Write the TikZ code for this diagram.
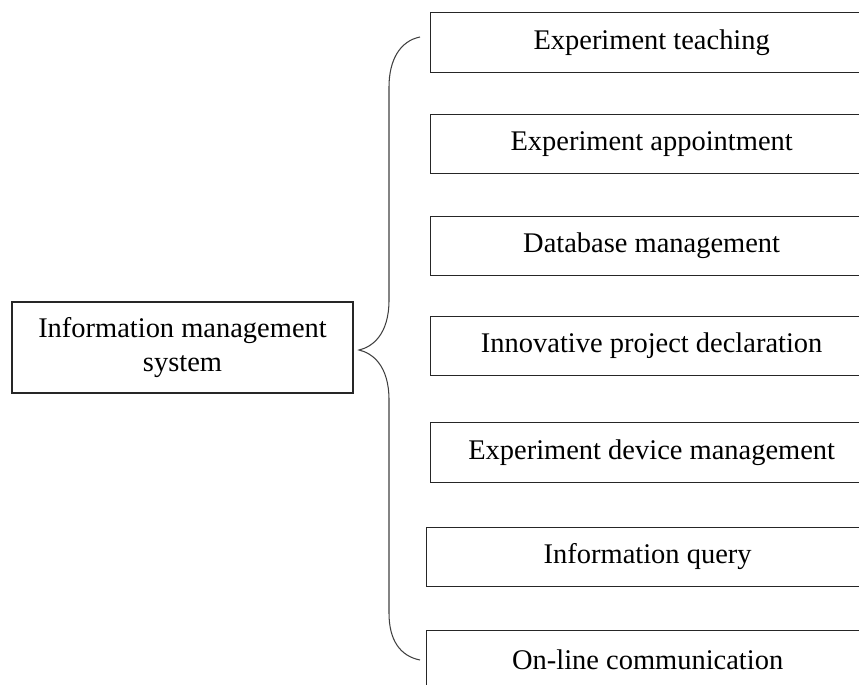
\documentclass[tikz,border=0pt]{standalone}
\usepackage{fontspec}
\setmainfont{Liberation Serif}
\usetikzlibrary{positioning}

\begin{document}
\begin{tikzpicture}[x=0.02cm, y=-0.02cm,
        item/.style={draw=black!85, line width=0.8pt, anchor=west, inner sep=0pt,
            minimum width=8.84cm, minimum height=1.19cm,
            font=\fontsize{16.2}{19.5}\selectfont},
        brace/.style={draw=black!75, line width=0.6pt}]
        \clip (0,0) rectangle (859,684);
        \node[item, anchor=center, align=center, minimum width=6.82cm, minimum height=1.82cm]
            (ims) at (182.5,347.5) {Information management\\system};
        \node[item] (teach)  at (430,42.5)  {Experiment teaching};
        \node[item] (appt)   at (430,144)   {Experiment appointment};
        \node[item] (dbm)    at (430,246)   {Database management};
        \node[item] (innov)  at (430,346)   {Innovative project declaration};
        \node[item] (device) at (430,452.5) {Experiment device management};
        \node[item] (query)  at (426,557)   {Information query};
        \node[item] (online) at (426,660)   {On-line communication};
        % brace
        \coordinate (tip) at (359,350);
        \coordinate (btop) at (420,37);
        \coordinate (bbot) at (420,660);
        \draw[brace] (btop) .. controls (400,41) and (389,60) .. (389,87)
            -- (389,300) .. controls (389,335) and (372,347) .. (tip)
            .. controls (372,353) and (389,365) .. (389,400)
            -- (389,613) .. controls (389,640) and (400,656) .. (bbot);
    \end{tikzpicture}
\end{document}
